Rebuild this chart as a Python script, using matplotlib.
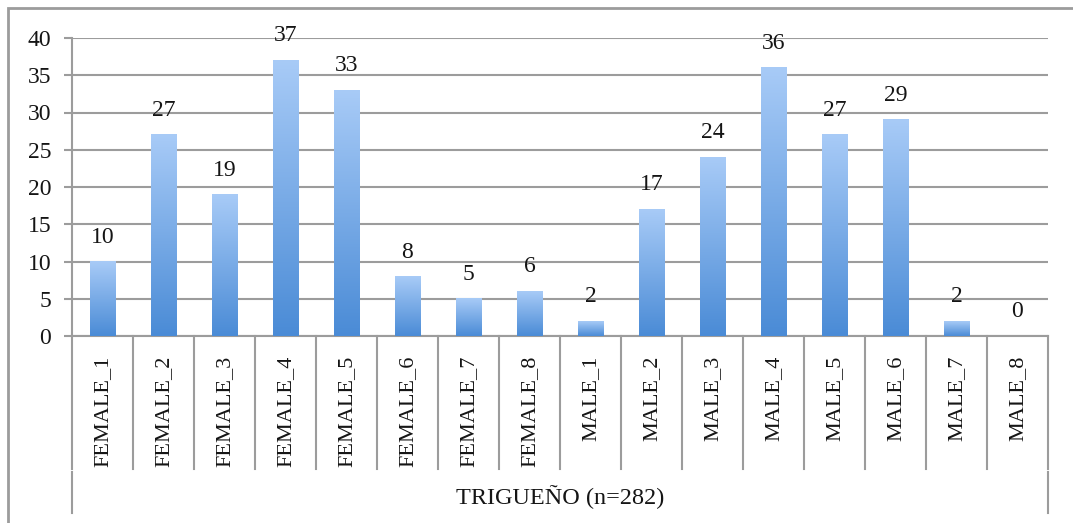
import numpy as np
import matplotlib
matplotlib.use("Agg")
import matplotlib.pyplot as plt
from matplotlib.colors import LinearSegmentedColormap
from matplotlib.patches import Rectangle
from matplotlib.lines import Line2D

categories = ["FEMALE_1", "FEMALE_2", "FEMALE_3", "FEMALE_4", "FEMALE_5", "FEMALE_6",
              "FEMALE_7", "FEMALE_8", "MALE_1", "MALE_2", "MALE_3", "MALE_4",
              "MALE_5", "MALE_6", "MALE_7", "MALE_8"]
values = [10, 27, 19, 37, 33, 8, 5, 6, 2, 17, 24, 36, 27, 29, 2, 0]
group_label = "TRIGUEÑO (n=282)"
yticks = [0, 5, 10, 15, 20, 25, 30, 35, 40]

plt.rcParams['font.family'] = ['Liberation Serif', 'DejaVu Serif']
FS_NUM = 17
FS_CAT = 16
FS_GRP = 17.5
TXT = '#151515'
GRAY = '#9c9c9c'

W, H = 1073, 523
fig = plt.figure(figsize=(W / 100, H / 100), dpi=100)
ax = fig.add_axes([72 / W, 1 - 336 / H, (1048 - 72) / W, (336 - 38) / H])

x = np.arange(len(categories))
bars = ax.bar(x, values, width=0.41, color='none', edgecolor='none', zorder=3)

cmap = LinearSegmentedColormap.from_list('g', ['#4a8bd6', '#a8cbf7'])
grad = np.linspace(0, 1, 256).reshape(-1, 1)
for b in bars:
    h = b.get_height()
    if h <= 0:
        continue
    x0 = b.get_x()
    ax.imshow(grad, extent=[x0, x0 + b.get_width(), 0, h], origin='lower',
              aspect='auto', cmap=cmap, zorder=3, interpolation='bicubic')

for xi, v in zip(x, values):
    ax.annotate(str(v), (xi, v), xytext=(0, 10), textcoords='offset points',
                ha='center', va='bottom', fontsize=FS_NUM, color=TXT, zorder=5)

ax.set_xlim(-0.5, len(categories) - 0.5)
ax.set_ylim(0, 40)
ax.set_yticks(yticks)
ax.set_yticklabels([str(t) for t in yticks], fontsize=FS_NUM, color=TXT)
ax.yaxis.grid(True, color=GRAY, linewidth=1.5, zorder=0)
ax.set_axisbelow(True)
ax.tick_params(axis='y', length=6, width=1.5, color=GRAY, pad=9)

ax.set_xticks(x)
ax.set_xticklabels(categories, rotation=90, fontsize=FS_CAT, color=TXT)
ax.tick_params(axis='x', length=0, pad=14)

for s in ['top', 'right']:
    ax.spines[s].set_visible(False)
ax.spines['left'].set_color(GRAY)
ax.spines['left'].set_linewidth(1.5)
ax.spines['bottom'].set_color(GRAY)
ax.spines['bottom'].set_linewidth(1.5)

# category separators
trans = ax.get_xaxis_transform()
for b in np.arange(-0.5, len(categories)):
    ax.add_line(Line2D([b, b], [0, -0.446], transform=trans, color=GRAY,
                       linewidth=1.5, clip_on=False))
for b in [-0.5, len(categories) - 0.5]:
    ax.add_line(Line2D([b, b], [-0.456, -0.594], transform=trans, color=GRAY,
                       linewidth=1.5, clip_on=False))

ax.text(0.5, -0.54, group_label, transform=ax.transAxes, ha='center', va='center',
        fontsize=FS_GRP, color=TXT)

# outer border
fig.add_artist(Rectangle((8 / W, -0.1), 2, 1 - 8 / H + 0.1, transform=fig.transFigure,
                         fill=False, edgecolor=GRAY, linewidth=2))

fig.savefig('out.png', dpi=100)
